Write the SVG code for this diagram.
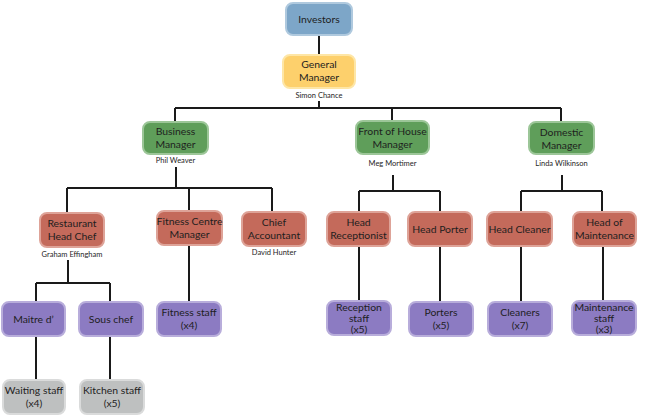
<svg xmlns="http://www.w3.org/2000/svg" width="665" height="419" viewBox="0 0 665 419">
<style>
.b{stroke-width:2}
.blue{fill:#7DA6C8;stroke:#AFC9DE}
.yel{fill:#FDD06C;stroke:#FEE6A6}
.grn{fill:#5F9E5A;stroke:#9CC698}
.red{fill:#C46A5B;stroke:#DEA398}
.pur{fill:#8C7BC2;stroke:#B8ADDB}
.gry{fill:#BEC0C0;stroke:#DADBDB}
text{font-family:Lato,"Open Sans","Noto Sans",sans-serif;fill:#1E1E1E;text-anchor:middle}
.t{font-size:10.4px}
.n{font-size:7.5px}
.c{fill:none;stroke:#1A1A1A;stroke-width:2}
</style>
<rect width="665" height="419" fill="#FFFFFF"/>
<g id="connectors">
<path class="c" d="M319 35V55M319 101V108M175 108H561M175 108V122M392 108V121M561 108V122"/>
<path class="c" d="M176 167V188M67 188H272M67 188V213M189 188V211M272 188V212"/>
<path class="c" d="M393 175V191M359 191H440M359 191V212M440 191V212"/>
<path class="c" d="M562 175V191M521 191H602M521 191V212M602 191V212"/>
<path class="c" d="M68 260V283M36 283H110M36 283V302M110 283V302"/>
<path class="c" d="M189 245V302M359 246V301M440 246V302M521 246V302M603 246V301"/>
<path class="c" d="M36 336V380M110 336V380"/>
</g>
<g id="investors"><rect class="b blue" x="286" y="3" width="66" height="32" rx="7"/><text class="t" x="319" y="22.5">Investors</text></g>
<g id="general-manager"><rect class="b yel" x="283" y="55" width="72" height="33" rx="7"/><text class="t" x="319" y="68">General</text><text class="t" x="319" y="81">Manager</text><text class="n" x="319" y="98">Simon Chance</text></g>
<g id="business-manager"><rect class="b grn" x="143" y="122" width="65" height="32" rx="7"/><text class="t" x="175.5" y="135">Business</text><text class="t" x="175.5" y="148">Manager</text><text class="n" x="175.5" y="163">Phil Weaver</text></g>
<g id="foh-manager"><rect class="b grn" x="356" y="121" width="73" height="33" rx="7"/><text class="t" x="392.5" y="135">Front of House</text><text class="t" x="392.5" y="148">Manager</text><text class="n" x="392.5" y="166">Meg Mortimer</text></g>
<g id="domestic-manager"><rect class="b grn" x="529" y="122" width="65" height="32" rx="7"/><text class="t" x="561.5" y="136">Domestic</text><text class="t" x="561.5" y="149">Manager</text><text class="n" x="561.5" y="166">Linda Wilkinson</text></g>
<g id="head-chef"><rect class="b red" x="40" y="213" width="64" height="34" rx="7"/><text class="t" x="72" y="227">Restaurant</text><text class="t" x="72" y="240">Head Chef</text><text class="n" x="72" y="257">Graham Effingham</text></g>
<g id="fitness-manager"><rect class="b red" x="157" y="211" width="65" height="34" rx="7"/><text class="t" x="189.5" y="225">Fitness Centre</text><text class="t" x="189.5" y="238">Manager</text></g>
<g id="chief-accountant"><rect class="b red" x="242" y="212" width="64" height="34" rx="7"/><text class="t" x="274" y="226">Chief</text><text class="t" x="274" y="239">Accountant</text><text class="n" x="274" y="255">David Hunter</text></g>
<g id="head-receptionist"><rect class="b red" x="327" y="212" width="63" height="34" rx="7"/><text class="t" x="358.5" y="226">Head</text><text class="t" x="358.5" y="239">Receptionist</text></g>
<g id="head-porter"><rect class="b red" x="408" y="212" width="64" height="34" rx="7"/><text class="t" x="440" y="232.5">Head Porter</text></g>
<g id="head-cleaner"><rect class="b red" x="487" y="212" width="65" height="34" rx="7"/><text class="t" x="519.5" y="232.5">Head Cleaner</text></g>
<g id="head-maintenance"><rect class="b red" x="573" y="212" width="63" height="34" rx="7"/><text class="t" x="604.5" y="226">Head of</text><text class="t" x="604.5" y="239">Maintenance</text></g>
<g id="maitre-d"><rect class="b pur" x="2" y="302" width="63" height="34" rx="7"/><text class="t" x="33.5" y="322.5">Maitre d’</text></g>
<g id="sous-chef"><rect class="b pur" x="79" y="302" width="64" height="34" rx="7"/><text class="t" x="111" y="322.5">Sous chef</text></g>
<g id="fitness-staff"><rect class="b pur" x="157" y="302" width="64" height="34" rx="7"/><text class="t" x="189" y="316">Fitness staff</text><text class="t" x="189" y="329">(x4)</text></g>
<g id="reception-staff"><rect class="b pur" x="327" y="301" width="64" height="34" rx="7"/><text class="t" x="359" y="310.5">Reception</text><text class="t" x="359" y="321.5">staff</text><text class="t" x="359" y="332.5">(x5)</text></g>
<g id="porters"><rect class="b pur" x="409" y="302" width="64" height="34" rx="7"/><text class="t" x="441" y="316">Porters</text><text class="t" x="441" y="329">(x5)</text></g>
<g id="cleaners"><rect class="b pur" x="488" y="302" width="64" height="34" rx="7"/><text class="t" x="520" y="316">Cleaners</text><text class="t" x="520" y="329">(x7)</text></g>
<g id="maintenance-staff"><rect class="b pur" x="572" y="301" width="64" height="34" rx="7"/><text class="t" x="604" y="310.5">Maintenance</text><text class="t" x="604" y="321.5">staff</text><text class="t" x="604" y="332.5">(x3)</text></g>
<g id="waiting-staff"><rect class="b gry" x="3" y="380" width="62" height="34" rx="7"/><text class="t" x="34" y="394">Waiting staff</text><text class="t" x="34" y="407">(x4)</text></g>
<g id="kitchen-staff"><rect class="b gry" x="80" y="380" width="64" height="34" rx="7"/><text class="t" x="112" y="394">Kitchen staff</text><text class="t" x="112" y="407">(x5)</text></g>
</svg>
